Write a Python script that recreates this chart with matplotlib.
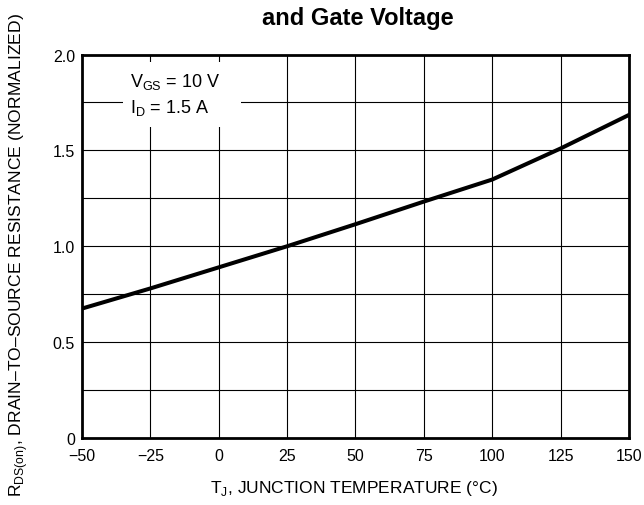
import matplotlib
matplotlib.use("Agg")
import matplotlib.pyplot as plt
from matplotlib.patches import Rectangle

# ===================== DATA =====================
temp_c = [-50, -25, 0, 25, 50, 75, 100, 125, 150]
rds_norm = [0.675, 0.78, 0.89, 1.0, 1.115, 1.233, 1.348, 1.51, 1.685]

x_ticks = [-50, -25, 0, 25, 50, 75, 100, 125, 150]
x_labels = ["\u221250", "\u221225", "0", "25", "50", "75", "100", "125", "150"]
y_ticks = [0, 0.5, 1.0, 1.5, 2.0]
y_labels = ["0", "0.5", "1.0", "1.5", "2.0"]
y_grid = [0.25, 0.5, 0.75, 1.0, 1.25, 1.5, 1.75]

# ===================== STYLE =====================
plt.rcParams['font.family'] = ['Liberation Sans', 'DejaVu Sans']
plt.rcParams['mathtext.fontset'] = 'custom'
plt.rcParams['mathtext.rm'] = 'Liberation Sans'

fig = plt.figure(figsize=(6.44, 5.06), dpi=100)
ax = fig.add_axes([0.1273, 0.1324, 0.8494, 0.7579])

# grid
for xv in x_ticks[1:-1]:
    ax.axvline(xv, color="black", lw=0.8, zorder=1)
for yv in y_grid:
    ax.axhline(yv, color="black", lw=0.8, zorder=1)

# white box behind the condition text
ax.add_patch(Rectangle((-35, 1.62), 43, 0.34, facecolor="white",
                       edgecolor="none", zorder=2))
ax.text(-32.4, 1.86, "V$_{\\mathregular{GS}}$ = 10 V", fontsize=13,
        va="center", ha="left", zorder=3)
ax.text(-32.4, 1.724, "I$_{\\mathregular{D}}$ = 1.5 A", fontsize=13,
        va="center", ha="left", zorder=3)

ax.plot(temp_c, rds_norm, color="black", lw=2.9, zorder=4)

ax.set_xlim(-50, 150)
ax.set_ylim(0, 2.0)
ax.set_xticks(x_ticks)
ax.set_xticklabels(x_labels)
ax.set_yticks(y_ticks)
ax.set_yticklabels(y_labels)
ax.tick_params(length=0, labelsize=11.5)
ax.tick_params(axis="x", pad=7)
ax.tick_params(axis="y", pad=5)
for s in ax.spines.values():
    s.set_linewidth(2)

ax.set_xlabel("T$_{\\mathregular{J}}$, JUNCTION TEMPERATURE (\u00b0C)", fontsize=12.5)
ax.xaxis.set_label_coords(0.498, -0.105)
ax.set_ylabel("R$_{\\mathregular{DS(on)}}$, DRAIN\u2013TO\u2013SOURCE RESISTANCE (NORMALIZED)",
              fontsize=12.6)
ax.yaxis.set_label_coords(-0.095, 0.48)

fig.text(0.555, 0.964, "and Gate Voltage", fontsize=17, fontweight="bold",
         ha="center", va="center")

fig.savefig("out.png", dpi=100)
